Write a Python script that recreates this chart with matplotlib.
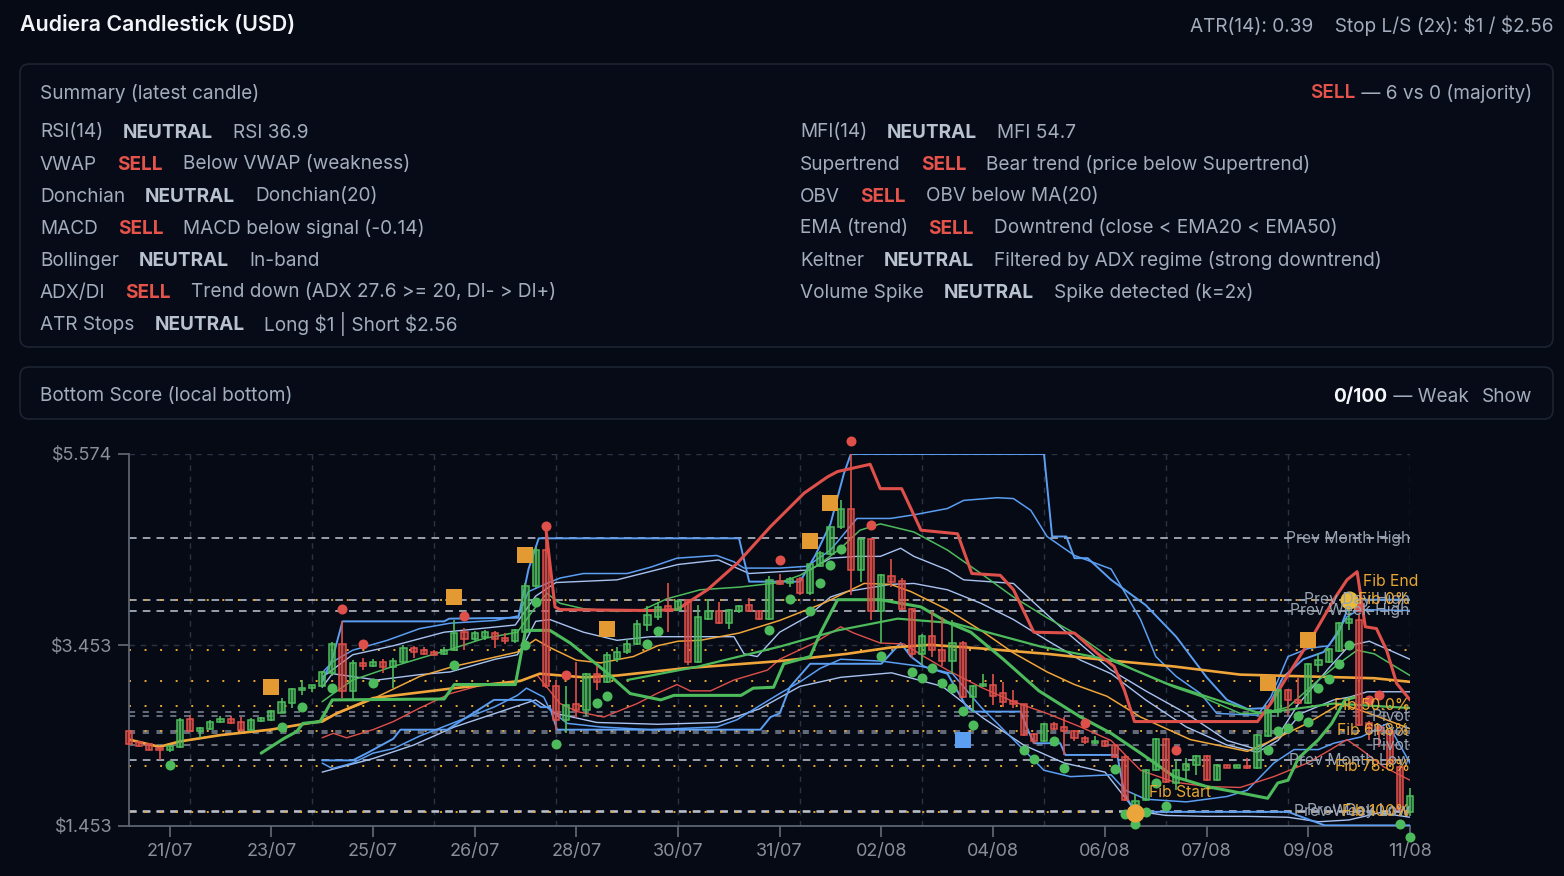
import matplotlib
matplotlib.use("Agg")
import matplotlib.pyplot as plt
import matplotlib.transforms as mtransforms
from matplotlib.patches import FancyBboxPatch, Rectangle

plt.rcParams['font.family'] = ['Inter', 'DejaVu Sans']
plt.rcParams['text.parse_math'] = False

# ---------------- data ----------------
title = "Audiera Candlestick (USD)"
header_right = "ATR(14): 0.39    Stop L/S (2x): $1 / $2.56"
consensus = ("SELL", " \u2014 6 vs 0 (majority)")
score = ("0/100", " \u2014 Weak", "Show")

left_rows = [
    ("RSI(14)", "NEUTRAL", "RSI 36.9"),
    ("VWAP", "SELL", "Below VWAP (weakness)"),
    ("Donchian", "NEUTRAL", "Donchian(20)"),
    ("MACD", "SELL", "MACD below signal (-0.14)"),
    ("Bollinger", "NEUTRAL", "In-band"),
    ("ADX/DI", "SELL", "Trend down (ADX 27.6 >= 20, DI- > DI+)"),
    ("ATR Stops", "NEUTRAL", "Long $1 | Short $2.56"),
]
right_rows = [
    ("MFI(14)", "NEUTRAL", "MFI 54.7"),
    ("Supertrend", "SELL", "Bear trend (price below Supertrend)"),
    ("OBV", "SELL", "OBV below MA(20)"),
    ("EMA (trend)", "SELL", "Downtrend (close < EMA20 < EMA50)"),
    ("Keltner", "NEUTRAL", "Filtered by ADX regime (strong downtrend)"),
    ("Volume Spike", "NEUTRAL", "Spike detected (k=2x)"),
]

tick_pos = [4, 14, 24, 34, 44, 54, 64, 74, 85, 96, 106, 116, 126]
tick_lab = ["21/07", "23/07", "25/07", "26/07", "28/07", "30/07", "31/07",
            "02/08", "04/08", "06/08", "07/08", "09/08", "11/08"]
y_ticks = [1.453, 3.453, 5.574]

opens = [2.50, 2.38, 2.36, 2.32, 2.29, 2.33, 2.64, 2.50, 2.53, 2.60,
         2.64, 2.61, 2.52, 2.62, 2.63, 2.71, 2.82, 2.96, 2.98, 3.00,
         3.15, 3.47, 2.95, 3.26, 3.23, 3.27, 3.21, 3.27, 3.42, 3.40,
         3.38, 3.36, 3.40, 3.60, 3.52, 3.55, 3.59, 3.54, 3.50, 3.60,
         4.11, 4.51, 3.00, 2.63, 2.80, 2.74, 3.14, 3.05, 3.30, 3.38,
         3.47, 3.68, 3.77, 3.89, 3.85, 3.96, 3.27, 3.75, 3.83, 3.70,
         3.84, 3.90, 3.84, 3.75, 4.17, 4.14, 4.19, 4.03, 4.33, 4.47,
         4.76, 4.96, 4.29, 4.63, 3.83, 4.22, 4.17, 3.86, 3.36, 3.56,
         3.40, 3.28, 3.48, 2.88, 3.00, 3.02, 2.93, 2.84, 2.80, 2.47,
         2.39, 2.58, 2.55, 2.50, 2.43, 2.37, 2.39, 2.35, 2.22, 1.69,
         1.74, 2.07, 2.42, 1.93, 2.07, 2.13, 2.23, 1.96, 2.12, 2.10,
         2.12, 2.09, 2.45, 2.72, 2.96, 2.85, 2.82, 3.24, 3.27, 3.39,
         3.70, 3.74, 2.59, 2.55, 2.50, 2.11, 1.61]
highs = [2.51, 2.40, 2.37, 2.33, 2.35, 2.65, 2.68, 2.55, 2.63, 2.67,
         2.67, 2.66, 2.65, 2.66, 2.74, 2.87, 2.98, 3.07, 3.02, 3.17,
         3.49, 3.72, 3.29, 3.31, 3.30, 3.30, 3.31, 3.46, 3.45, 3.44,
         3.40, 3.44, 3.74, 3.65, 3.61, 3.62, 3.61, 3.59, 3.63, 4.15,
         4.54, 4.74, 3.07, 3.00, 3.27, 3.15, 3.23, 3.38, 3.44, 3.52,
         3.74, 3.89, 3.93, 4.15, 3.97, 3.97, 3.90, 3.97, 3.93, 3.86,
         3.90, 3.98, 3.85, 4.22, 4.25, 4.21, 4.21, 4.36, 4.50, 4.78,
         5.06, 5.574, 4.64, 4.64, 4.24, 4.41, 4.20, 3.87, 3.58, 3.84,
         3.77, 3.74, 3.50, 3.01, 3.14, 3.14, 3.05, 2.96, 2.81, 2.48,
         2.59, 2.60, 2.66, 2.52, 2.45, 2.45, 2.41, 2.36, 2.24, 1.81,
         2.08, 2.43, 2.43, 2.18, 2.21, 2.24, 2.24, 2.14, 2.13, 2.13,
         2.21, 2.47, 2.75, 2.97, 2.97, 3.09, 3.26, 3.37, 3.42, 3.71,
         3.96, 3.80, 2.62, 2.58, 2.52, 2.13, 1.87]
lows = [2.35, 2.33, 2.29, 2.18, 2.27, 2.32, 2.49, 2.43, 2.52, 2.59,
        2.58, 2.51, 2.51, 2.60, 2.62, 2.70, 2.76, 2.90, 2.94, 2.99,
        3.12, 2.87, 2.86, 3.18, 3.21, 3.15, 2.98, 3.26, 3.31, 3.35,
        3.34, 3.35, 3.39, 3.40, 3.50, 3.51, 3.43, 3.47, 3.48, 3.58,
        4.09, 2.98, 2.52, 2.48, 2.65, 2.67, 2.96, 3.04, 3.27, 3.36,
        3.46, 3.61, 3.74, 3.60, 3.84, 3.24, 3.26, 3.74, 3.69, 3.63,
        3.81, 3.83, 3.74, 3.74, 4.12, 4.10, 4.01, 4.01, 4.32, 4.46,
        4.74, 4.01, 4.16, 3.74, 3.48, 4.10, 3.85, 3.31, 3.24, 3.33,
        3.22, 3.14, 2.87, 2.72, 2.99, 2.79, 2.77, 2.76, 2.45, 2.36,
        2.38, 2.52, 2.24, 2.39, 2.36, 2.36, 2.33, 2.21, 1.73, 1.60,
        1.73, 2.06, 1.93, 1.85, 1.96, 2.02, 1.95, 1.95, 2.09, 2.09,
        2.08, 2.08, 2.44, 2.66, 2.68, 2.81, 2.81, 3.16, 3.26, 3.38,
        3.62, 2.56, 2.41, 2.33, 2.14, 1.60, 1.56]
closes = [2.36, 2.34, 2.29, 2.29, 2.34, 2.63, 2.50, 2.54, 2.61, 2.64,
          2.59, 2.52, 2.63, 2.65, 2.73, 2.83, 2.97, 2.98, 3.01, 3.16,
          3.47, 2.95, 3.26, 3.23, 3.27, 3.21, 3.28, 3.42, 3.38, 3.36,
          3.35, 3.40, 3.59, 3.52, 3.59, 3.60, 3.52, 3.50, 3.62, 4.11,
          4.51, 3.00, 2.63, 2.79, 2.74, 3.14, 3.05, 3.35, 3.38, 3.47,
          3.69, 3.79, 3.88, 3.84, 3.95, 3.27, 3.77, 3.84, 3.70, 3.85,
          3.89, 3.84, 3.75, 4.18, 4.13, 4.19, 4.03, 4.35, 4.48, 4.77,
          4.96, 4.29, 4.63, 3.83, 4.23, 4.16, 3.86, 3.36, 3.56, 3.40,
          3.28, 3.48, 2.88, 3.00, 3.02, 2.89, 2.83, 2.80, 2.46, 2.39,
          2.58, 2.53, 2.51, 2.43, 2.38, 2.40, 2.34, 2.22, 1.74, 1.73,
          2.07, 2.42, 1.94, 2.07, 2.14, 2.23, 1.96, 2.13, 2.10, 2.12,
          2.09, 2.46, 2.74, 2.96, 2.85, 2.82, 3.25, 3.29, 3.41, 3.70,
          3.75, 2.57, 2.54, 2.51, 2.15, 1.63, 1.78]

# overlay lines (candle index, price)
ema50_x = [0, 3, 5, 9, 13.9, 16.5, 18.1, 19, 20.4, 24, 32, 38.5, 40.4, 44.7, 48, 54.6, 64,
           70.6, 74.9, 78.8, 83.8, 90.3, 96.2, 102.8, 109.3, 115.9, 122.5, 126]
ema50_y = [2.41, 2.33, 2.39, 2.46, 2.52, 2.57, 2.60, 2.61, 2.70, 2.87, 2.98, 3.06, 3.14, 3.10,
           3.12, 3.20, 3.28, 3.36, 3.43, 3.46, 3.42, 3.36, 3.29, 3.22, 3.13, 3.11, 3.09, 3.05]
ema20_x = [0, 3, 5, 9, 13.9, 16.5, 18.1, 19, 23.4, 28.6, 31.9, 38.2, 40, 41.4, 44, 46.4, 49.6,
           52, 54, 56.2, 60, 64, 68.3, 72.3, 74.9, 76.9, 80.5, 83.8, 87, 90.3, 93, 96.2, 99.5,
           104.4, 110, 112.6, 115.9, 119.2, 122.5, 126]
ema20_y = [2.41, 2.33, 2.39, 2.46, 2.52, 2.57, 2.60, 2.63, 2.83, 3.11, 3.22, 3.38, 3.52, 3.43,
           3.29, 3.26, 3.33, 3.45, 3.50, 3.51, 3.59, 3.73, 3.92, 4.14, 4.13, 4.05, 3.85, 3.62,
           3.37, 3.16, 3.02, 2.89, 2.66, 2.41, 2.28, 2.41, 2.59, 2.81, 2.68, 2.53]
st_red_x = [41, 41.9, 42.4, 51.3, 53.9, 56.9, 59.8, 63.1, 66.4, 68.7, 69.7, 72.9, 73.9, 76,
            77.9, 81.5, 82.9, 85.7, 87, 89, 93, 95.3, 96.9, 97.9, 98.9, 111, 112.3, 114.3,
            116.6, 118.5, 119.8, 120.8, 121.6, 122.7, 123.7, 124.7, 126]
st_red_y = [4.75, 3.88, 3.85, 3.84, 3.85, 4.07, 4.36, 4.77, 5.14, 5.32, 5.38, 5.46, 5.19, 5.19,
            4.73, 4.69, 4.25, 4.23, 4.07, 3.60, 3.59, 3.36, 3.22, 2.96, 2.61, 2.61, 2.81, 3.18,
            3.59, 3.96, 4.18, 4.27, 3.66, 3.64, 3.40, 3.03, 2.85]
st_green_x = [13, 15.2, 16.5, 17.1, 18.8, 20, 31, 32, 38, 39, 41.4, 43.4, 46.7, 49.3, 52.3,
              53.6, 60.2, 61.4, 63.4, 64.4, 67, 68, 69.7, 73.9, 77.9, 80.5, 82.8, 86, 89.5,
              93.6, 96.6, 99.5, 102.8, 106, 109.3, 112, 113, 114, 115, 117, 118.3, 119.6, 120.6]
st_green_y = [2.26, 2.42, 2.50, 2.59, 2.61, 2.85, 2.86, 3.02, 3.02, 3.62, 3.62, 3.48, 3.18,
              2.92, 2.85, 2.90, 2.90, 2.98, 2.99, 3.25, 3.33, 3.59, 3.96, 3.96, 3.88, 3.71,
              3.60, 3.30, 2.95, 2.66, 2.48, 2.26, 2.00, 1.89, 1.82, 1.76, 1.93, 1.96, 2.20,
              2.41, 2.59, 2.85, 2.88]
vwap_x = [19, 20.1, 21.4, 24, 26, 28.6, 31.6, 34.9, 38.2, 40.1, 41.1, 42.4, 44.1, 46.7, 50,
          51.9, 53.9, 55.2, 57.2, 59.5, 62.8, 64, 67.4, 70, 71.3, 73.9, 76.2, 78.2, 80.5, 83.8,
          87, 90.3, 93.6, 96.6, 99.5, 102.8, 106, 109.3, 112.6, 115.9, 118.2, 119.8, 121.2,
          123.4, 126]
vwap_y = [2.43, 2.48, 2.43, 2.52, 2.61, 2.76, 2.92, 3.02, 3.05, 3.13, 2.99, 2.81, 2.72, 2.66,
          2.81, 2.92, 3.02, 2.95, 2.95, 3.07, 3.18, 3.30, 3.48, 3.66, 3.59, 3.48, 3.47, 3.33,
          3.18, 2.99, 2.83, 2.70, 2.55, 2.40, 2.07, 1.94, 1.89, 1.88, 2.00, 2.15, 2.30, 2.41,
          2.30, 2.11, 1.96]
fast_x = [19, 20.1, 22, 25.4, 28.6, 31.6, 34.9, 38.2, 39.8, 41.1, 42.4, 44.7, 48, 50.6, 52.9,
          56.2, 60.1, 64, 66, 68, 70, 71.9, 73.9, 77.2, 80.5, 83.8, 87, 90.3, 93.3, 96.6, 98.9,
          102.8, 105.4, 109.3, 111.3, 114, 117, 119.2, 120.8, 122.5, 126]
fast_y = [2.83, 2.92, 3.07, 3.20, 3.31, 3.41, 3.53, 3.60, 3.85, 4.03, 3.92, 3.86, 3.83, 3.85,
          3.97, 4.07, 4.10, 4.15, 4.23, 4.36, 4.53, 4.73, 4.80, 4.71, 4.51, 4.25, 3.99, 3.76,
          3.57, 3.31, 3.18, 2.99, 2.89, 2.70, 2.70, 2.77, 3.07, 3.27, 3.40, 3.36, 3.12]
slow_x = [49, 56, 64, 69.7, 75.6, 81.1, 89.7, 96.6, 102.1, 107, 111.3, 115.3, 118.5, 126]
slow_y = [3.07, 3.22, 3.44, 3.62, 3.75, 3.70, 3.44, 3.29, 3.03, 2.85, 2.70, 2.76, 2.81, 2.76]
dcu_x = [19, 20, 21, 31, 31.5, 38.3, 39.3, 40.3, 60, 61, 66, 67.5, 69, 70.3, 71, 90, 90.8,
         92.2, 93, 94.3, 96.6, 100, 103, 106, 108, 110, 112, 113.5, 115.5, 117.5, 119, 120.2, 126]
dcu_y = [3.05, 3.30, 3.72, 3.72, 3.75, 3.76, 4.30, 4.64, 4.64, 4.16, 4.16, 4.45, 4.80, 5.35,
         5.574, 5.574, 4.66, 4.66, 4.42, 4.42, 4.18, 3.90, 3.55, 3.10, 2.85, 2.75, 2.76, 3.10,
         3.30, 3.38, 3.60, 3.96, 3.96]
dcl_x = [19, 22, 23.4, 26, 26.7, 31.3, 35.9, 39.5, 40.5, 41.4, 42.1, 62.1, 63.1, 64, 65, 67,
         74, 74.9, 75.9, 76.9, 78.2, 80.5, 82.4, 83.1, 87.7, 88.3, 89, 91.6, 92.1, 97.2, 97.9,
         98.9, 114, 117.6, 126]
dcl_y = [2.18, 2.18, 2.26, 2.42, 2.52, 2.52, 2.85, 2.85, 2.77, 2.77, 2.52, 2.52, 2.66, 2.70,
         2.99, 3.25, 3.25, 3.36, 3.48, 3.33, 3.22, 3.14, 2.77, 2.72, 2.72, 2.55, 2.37, 2.37,
         2.24, 2.24, 1.82, 1.61, 1.61, 1.46, 1.46]
bbu_x = [19, 20, 22, 25.4, 28.6, 31.6, 36, 38.3, 39.3, 41.1, 42.4, 44.7, 49, 51.3, 53.9, 57.8,
         59.5, 60.5, 64, 66.7, 69, 71.6, 74.9, 77.2, 80.5, 82.1, 85.4, 87, 88.7, 90.3, 93, 96.6,
         99.5, 101, 103, 105.4, 107, 111, 112.3, 114, 116, 118, 119.8, 121, 126]
bbu_y = [3.15, 3.27, 3.40, 3.51, 3.64, 3.70, 3.73, 3.78, 4.05, 4.14, 4.20, 4.25, 4.25, 4.32,
         4.42, 4.45, 4.38, 4.31, 4.31, 4.33, 4.51, 4.86, 4.86, 4.90, 4.97, 5.06, 5.09, 5.08,
         4.95, 4.66, 4.45, 4.30, 3.74, 3.33, 3.11, 2.92, 2.70, 2.68, 2.88, 3.33, 3.42, 3.45,
         3.77, 3.85, 3.84]
bbl_x = [19, 20, 22, 24, 26, 28.6, 32, 35.9, 38.2, 39.1, 40.8, 41.4, 43.1, 46.4, 51.3, 57.8,
         59.8, 61.8, 64, 66, 68, 70, 74, 78, 81, 83.8, 87, 90, 92.6, 96.6, 98, 100, 104, 108,
         110, 112.6, 114.6, 117, 118.5, 121.2, 123.8, 126]
bbl_y = [2.15, 2.09, 2.15, 2.26, 2.31, 2.45, 2.60, 2.77, 2.90, 2.98, 2.88, 2.74, 2.59, 2.55,
         2.52, 2.55, 2.63, 2.77, 2.92, 3.05, 3.20, 3.30, 3.28, 3.22, 3.14, 2.77, 2.41, 2.07,
         2.00, 2.02, 1.85, 1.75, 1.72, 1.78, 1.85, 2.15, 2.30, 2.30, 2.37, 2.44, 2.59, 2.15]
kcu_x = [19, 22, 26, 31, 38, 40, 42, 48, 54, 58, 61, 64, 67, 69, 71.6, 73.9, 75.9, 77.2, 80.5,
         82.1, 87, 88.7, 92, 96.6, 100, 104, 108, 111, 113, 115, 118, 120, 122, 126]
kcu_y = [3.10, 3.35, 3.45, 3.60, 3.68, 4.00, 4.15, 4.18, 4.35, 4.40, 4.25, 4.27, 4.29, 4.42,
         4.44, 4.44, 4.53, 4.44, 4.29, 4.18, 4.14, 3.96, 3.62, 3.18, 2.95, 2.70, 2.40, 2.30,
         2.45, 2.80, 3.20, 3.45, 3.50, 3.30]
kcm_x = [19, 20, 24.4, 28.6, 31.6, 36, 38.2, 39, 40, 41.4, 44.7, 48, 51.3, 59.5, 60.5, 61.8,
         64, 66.7, 69, 70.6, 74.9, 77.2, 80.5, 83.8, 87, 90.3, 93.6, 96.6, 100, 104, 108, 111,
         113, 115.3, 118.5, 120, 121.8, 126]
kcm_y = [2.99, 3.14, 3.07, 3.13, 3.16, 3.30, 3.35, 3.50, 3.72, 3.74, 3.60, 3.51, 3.55, 3.55,
         3.36, 3.33, 3.60, 3.77, 3.99, 4.05, 4.13, 4.14, 4.07, 3.92, 3.74, 3.51, 3.29, 3.14,
         2.85, 2.55, 2.35, 2.27, 2.40, 2.70, 2.85, 2.88, 2.94, 2.94]
kcl_x = [19, 24, 28, 32, 36, 40, 42, 46, 52, 58, 62, 66, 70, 75, 80, 84, 88, 92, 96, 99, 102,
         106, 110, 114, 117, 120, 123, 126]
kcl_y = [2.05, 2.20, 2.35, 2.55, 2.70, 2.85, 2.70, 2.60, 2.58, 2.60, 2.75, 3.00, 3.10, 3.15,
         3.00, 2.65, 2.35, 2.15, 2.05, 1.62, 1.57, 1.56, 1.56, 1.55, 1.50, 1.52, 1.60, 1.55]

sar_up_x = [4, 15, 17, 20, 24, 32, 39, 40, 42, 46, 47, 51, 52, 63, 65, 67, 68, 69, 70, 74, 77,
            78, 79, 80, 81, 82, 83, 88, 89, 91, 92, 97, 98, 99, 100, 101, 102, 112, 113, 114,
            115, 116, 117, 118, 119, 120, 125, 126]
sar_up_y = [2.13, 2.55, 2.77, 2.98, 3.04, 3.24, 3.46, 3.93, 2.36, 2.82, 2.89, 3.47, 3.61, 3.62,
            3.97, 3.83, 4.14, 4.34, 4.52, 3.34, 3.16, 3.09, 3.20, 3.04, 2.98, 2.73, 2.57, 2.29,
            2.20, 2.39, 2.10, 2.08, 1.59, 1.47, 1.61, 1.93, 1.67, 2.30, 2.50, 2.54, 2.67, 2.61,
            2.98, 3.08, 3.25, 3.46, 1.47, 1.33]
sar_dn_x = [21, 23, 33, 41, 43, 64, 71, 73, 94, 103, 121, 122, 123]
sar_dn_y = [3.86, 3.47, 3.78, 4.78, 3.13, 4.40, 5.72, 4.79, 2.59, 2.30, 3.88, 2.85, 2.90]
sig_x = [14, 32, 39, 47, 67, 69, 112, 116]
sig_y = [2.99, 3.99, 4.46, 3.63, 4.61, 5.03, 3.04, 3.51]
bottom_sig = (82, 2.41)
fib_start = (99, 1.60)
fib_end = (120, 3.96)

fib_levels = [3.960, 3.405, 3.062, 2.785, 2.508, 2.113, 1.610]
fib_labels = ["Fib 0%", None, None, "Fib 50.0%", "Fib 61.8%", "Fib 78.6%", "Fib 100%"]
key_levels = [4.64, 3.96, 3.84, 2.18, 1.61, 1.62]
key_labels = ["Prev Month High", "Prev Day High", "Prev Week High",
              "Prev Month Low", "Prev Week Low", "Prev Day Low"]
pivot_levels = [2.72, 2.67, 2.50, 2.48, 2.35]
pivot_labels = [None, "Pivot R1", "Pivot", None, "Pivot S1"]

# ---------------- style ----------------
BG = '#050a15'
BORDER = '#1d2431'
TXT = '#a3adbd'
TXT_B = '#b9c2cf'
RED_T = '#e5534b'
BLUE = '#5b9ef2'
LBLUE = '#a9c3f0'
ORANGE = '#f0a53a'
GREEN = '#4dbb5c'
RED = '#e0504a'
GRAY_LVL = '#c3c9d4'
FIB_C = '#e9a630'

W, H = 1564, 876
fig = plt.figure(figsize=(W / 100, H / 100), dpi=100)
fig.patch.set_facecolor(BG)
ident = mtransforms.IdentityTransform()
rend = fig.canvas.get_renderer()
FS = 13.7
DY = 2.5  # baseline nudge so centred text sits like the reference


def put(x, y, s, color=TXT, size=FS, weight='normal', ha='left'):
    return fig.text(x, H - y - DY, s, color=color, fontsize=size, fontweight=weight,
                    ha=ha, va='center', transform=ident)


def runs(x, y, parts, align='left', size=FS):
    arts, widths = [], []
    for s, c, wt, gap in parts:
        t = put(0, y, s, c, size, wt)
        arts.append(t)
        widths.append(t.get_window_extent(rend).width)
    total = sum(widths) + sum(p[3] for p in parts[:-1])
    cx = x if align == 'left' else x - total
    for t, wd, p in zip(arts, widths, parts):
        t.set_x(cx)
        cx += wd + p[3]


def panel(x0, y0, x1, y1):
    p = FancyBboxPatch((x0, H - y1), x1 - x0, y1 - y0,
                       boxstyle="round,pad=0,rounding_size=9",
                       facecolor='#060b17', edgecolor=BORDER, lw=1.2, transform=ident)
    fig.add_artist(p)


# header
put(20, 23, title, color='#f2f4f8', size=15.4, weight='semibold')
put(1553, 23, header_right, ha='right', size=13.7)

# summary panel
panel(20, 64, 1553, 347)
put(40, 91, "Summary (latest candle)")
runs(1532, 91, [(consensus[0], RED_T, 'semibold', 0), (consensus[1], TXT, 'normal', 0)],
     align='right')
for col_x, rows in ((40, left_rows), (800, right_rows)):
    for k, (name, status, desc) in enumerate(rows):
        sc = RED_T if status == "SELL" else TXT_B
        runs(col_x, 130 + 32 * k, [(name, TXT, 'normal', 20), (status, sc, 'bold', 20),
                                   (desc, TXT, 'normal', 0)])

# bottom score panel
panel(20, 367, 1553, 419)
put(40, 394, "Bottom Score (local bottom)")
runs(1532, 394, [(score[0], '#f4f6fa', 'bold', 0), (score[1], TXT, 'normal', 13),
                 (score[2], TXT, 'normal', 0)], align='right')

# ---------------- chart ----------------
ax = fig.add_axes([129 / W, 1 - 826 / H, (1410 - 129) / W, (826 - 454) / H])
ax.set_facecolor(BG)
ax.set_xlim(0, 126)
ax.set_ylim(1.453, 5.574)

for g in range(6, 127, 12):
    ax.axvline(g, color='#2b3343', lw=1, ls=(0, (4, 4)), zorder=1)
for yt in y_ticks[1:]:
    ax.axhline(yt, color='#2b3343', lw=1, ls=(0, (4, 4)), zorder=1)

for lv in pivot_levels:
    ax.axhline(lv, color='#7f8898', lw=1.1, ls=(0, (4, 5)), zorder=2)
for lv in key_levels:
    ax.axhline(lv, color=GRAY_LVL, lw=1.1, ls=(0, (5, 4)), zorder=2)
for lv in fib_levels:
    ax.axhline(lv, color=FIB_C, lw=1.4, ls=(0, (1, 7)), zorder=2)


def curve(xs, ys, color, lw, z=3):
    ax.plot(xs, ys, color=color, lw=lw, zorder=z, solid_joinstyle='round',
            solid_capstyle='round')


curve(kcl_x, kcl_y, LBLUE, 1.0)
curve(kcm_x, kcm_y, LBLUE, 1.0)
curve(kcu_x, kcu_y, LBLUE, 1.0)
curve(bbl_x, bbl_y, BLUE, 1.1)
curve(bbu_x, bbu_y, BLUE, 1.1)
curve(dcl_x, dcl_y, BLUE, 1.4)
curve(dcu_x, dcu_y, BLUE, 1.4)
curve(vwap_x, vwap_y, RED, 1.0)
curve(ema20_x, ema20_y, ORANGE, 1.1)
curve(ema50_x, ema50_y, ORANGE, 1.9)
curve(fast_x, fast_y, GREEN, 1.1)
curve(slow_x, slow_y, GREEN, 1.6)
curve(st_green_x, st_green_y, GREEN, 2.2)
curve(st_red_x, st_red_y, RED, 2.2)

# candles
for i, (o, h, l, c) in enumerate(zip(opens, highs, lows, closes)):
    up = c >= o
    col = GREEN if up else RED
    face = (0.30, 0.73, 0.36, 0.45) if up else (0.88, 0.31, 0.29, 0.45)
    ax.vlines(i, l, h, color=col, lw=1.2, zorder=4, clip_on=False)
    lo = min(o, c)
    ht = max(abs(c - o), 0.025)
    ax.add_patch(Rectangle((i - 0.31, lo), 0.62, ht, facecolor=face, edgecolor=col,
                           lw=1.1, zorder=4.5, clip_on=False))

ax.scatter(sar_up_x, sar_up_y, s=52, color=GREEN, zorder=6, linewidths=0, clip_on=False)
ax.scatter(sar_dn_x, sar_dn_y, s=52, color=RED, zorder=6, linewidths=0, clip_on=False)
ax.scatter(sig_x, sig_y, s=125, marker='s', color='#e39a32', zorder=6, linewidths=0)
ax.scatter([bottom_sig[0]], [bottom_sig[1]], s=125, marker='s', color=BLUE, zorder=6,
           linewidths=0)
ax.scatter([fib_start[0]], [fib_start[1]], s=170, color='#eca53a', zorder=7, linewidths=0)
ax.scatter([fib_end[0]], [fib_end[1]], s=170, color='#e8bb3a', zorder=7, linewidths=0)

LFS = 11.3
for lv, lb in zip(key_levels, key_labels):
    if lb:
        ax.text(126, lv, lb, color='#9aa3b1', fontsize=LFS, ha='right', va='center',
                zorder=8, clip_on=True)
for lv, lb in zip(pivot_levels, pivot_labels):
    if lb:
        ax.text(122.3, lv, lb, color='#9aa3b1', fontsize=LFS, ha='left', va='center',
                zorder=8, clip_on=True)
for lv, lb in zip(fib_levels, fib_labels):
    if lb:
        ax.text(126, lv, lb, color=FIB_C, fontsize=LFS, ha='right', va='center', zorder=9)
ax.text(fib_start[0] + 1.3, 1.82, "Fib Start", color=FIB_C, fontsize=LFS, ha='left',
        va='center', zorder=9)
ax.text(fib_end[0] + 1.4, 4.16, "Fib End", color=FIB_C, fontsize=LFS, ha='left',
        va='center', zorder=9, clip_on=False)

# axes styling
for side in ('top', 'right'):
    ax.spines[side].set_visible(False)
for side in ('left', 'bottom'):
    ax.spines[side].set_color('#5d6472')
    ax.spines[side].set_linewidth(1.3)
ax.set_yticks(y_ticks)
ax.set_yticklabels(["$%.3f" % v for v in y_ticks])
ax.set_xticks(tick_pos)
ax.set_xticklabels(tick_lab)
ax.tick_params(axis='both', colors='#5d6472', labelcolor='#8a8f99', labelsize=13, length=8,
               width=1.3, pad=4)

fig.savefig("out.png", dpi=100, facecolor=BG)
